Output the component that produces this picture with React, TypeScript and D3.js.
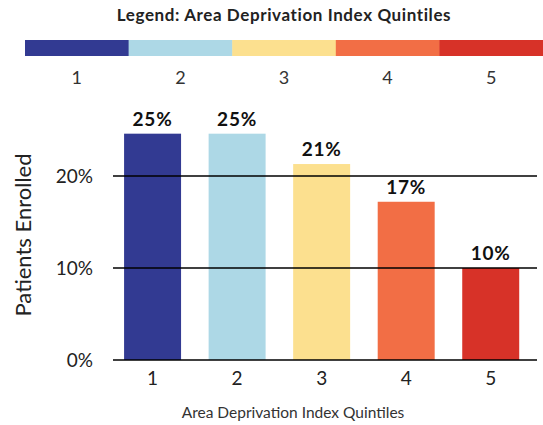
import React from "react";
import * as d3 from "d3";

const categories = ["1", "2", "3", "4", "5"];
const values = [0.246, 0.246, 0.213, 0.172, 0.1];
const valueLabels = ["25%", "25%", "21%", "17%", "10%"];
const colors = ["#323a92", "#add8e6", "#fce08f", "#f26e45", "#d73228"];
const yTicks = [0, 0.1, 0.2];
const legendTitle = "Legend: Area Deprivation Index Quintiles";
const xTitle = "Area Deprivation Index Quintiles";
const yTitle = "Patients Enrolled";

const W = 543;
const H = 425;
const FONT = "Lato, 'Noto Sans', sans-serif";

export default function App() {
  const x = d3
    .scaleBand<string>()
    .domain(categories)
    .range([110.3, 533])
    .paddingInner(0.326)
    .paddingOuter(0.163);
  const y = d3.scaleLinear().domain([0, 0.3]).range([360, 84]);
  const legendX = d3.scaleBand<string>().domain(categories).range([25, 543]);
  const fmt = d3.format(".0%");

  return (
    <svg
      width={W}
      height={H}
      style={{ position: "absolute", left: 0, top: 0, background: "#fff" }}
      fontFamily={FONT}
    >
      {/* legend */}
      <text x={284} y={21} textAnchor="middle" fontSize={17} fontWeight={700} fill="#222" letterSpacing={0.6}>
        {legendTitle}
      </text>
      {categories.map((c, i) => (
        <g key={"lg" + c}>
          <rect x={legendX(c)!} y={40} width={legendX.bandwidth() + 0.5} height={16} fill={colors[i]} />
          <text
            x={legendX(c)! + legendX.bandwidth() / 2}
            y={84}
            textAnchor="middle"
            fontSize={18}
            fill="#333"
          >
            {c}
          </text>
        </g>
      ))}

      {/* bars */}
      {categories.map((c, i) => (
        <g key={"b" + c}>
          <rect x={x(c)!} y={y(values[i])} width={x.bandwidth()} height={y(0) - y(values[i])} fill={colors[i]} />
          <text
            x={x(c)! + x.bandwidth() / 2}
            y={y(values[i]) - 8}
            textAnchor="middle"
            fontSize={19}
            fontWeight={700}
            fill="#111"
            letterSpacing={0.8}
          >
            {valueLabels[i]}
          </text>
          <text x={x(c)! + x.bandwidth() / 2} y={385} textAnchor="middle" fontSize={19} fill="#222">
            {c}
          </text>
        </g>
      ))}

      {/* grid lines & y ticks */}
      {yTicks.map((t) => (
        <g key={"t" + t}>
          <line x1={113} x2={537} y1={y(t)} y2={y(t)} stroke="#000" strokeWidth={1.3} />
          <text x={93} y={y(t) + 6.5} textAnchor="end" fontSize={19} fill="#222">
            {fmt(t)}
          </text>
        </g>
      ))}

      {/* axis titles */}
      <text x={293} y={418} textAnchor="middle" fontSize={15.5} fill="#333">
        {xTitle}
      </text>
      <text
        transform={`translate(31,235) rotate(-90)`}
        textAnchor="middle"
        fontSize={22}
        fill="#222"
      >
        {yTitle}
      </text>
    </svg>
  );
}
